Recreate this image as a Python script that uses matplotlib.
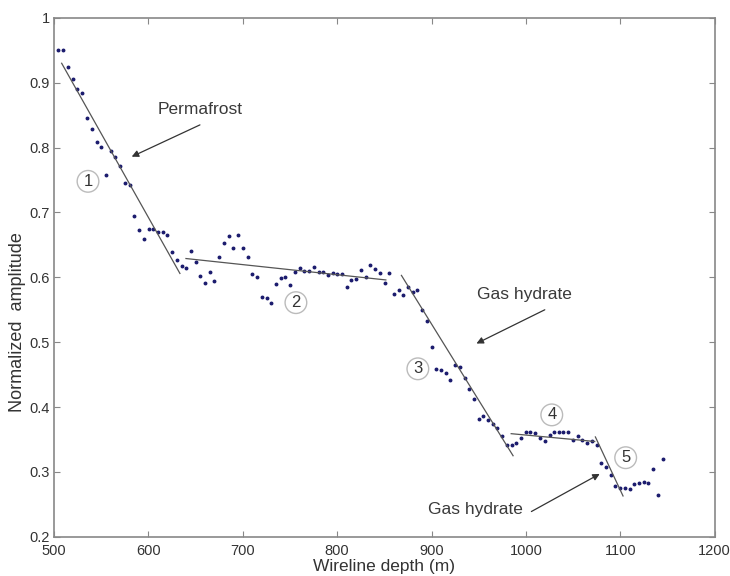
import matplotlib.pyplot as plt

plt.rcParams['font.family'] = ['Liberation Sans', 'DejaVu Sans']

# measured points (wireline depth in m, normalized amplitude)
depth = [504.6, 509.8, 515.1, 519.8, 524.7, 530.0, 534.6, 539.9, 545.2, 549.8,
         555.1, 560.0, 564.9, 569.9, 575.2, 580.2, 585.0, 590.0, 595.0, 600.3,
         605.2, 609.8, 615.1, 620.0, 625.3, 630.3, 635.2, 640.1, 645.1, 650.1,
         654.9, 659.9, 664.9, 669.8, 674.7, 680.0, 685.0, 689.9, 695.2, 700.2,
         705.1, 710.0, 715.0, 720.3, 725.2, 730.1, 735.1, 740.1, 744.9, 749.9,
         755.2, 760.2, 765.1, 770.0, 775.0, 780.3, 785.2, 790.2, 795.1, 800.0,
         805.0, 810.0, 814.8, 819.8, 825.1, 830.1, 835.0, 840.0, 844.9, 850.2,
         855.1, 860.4, 865.0, 869.9, 874.9, 879.9, 884.7, 890.0, 895.0, 900.0,
         904.9, 909.8, 914.8, 919.7, 925.0, 930.0, 935.0, 939.8, 944.8, 949.8,
         954.6, 959.6, 964.9, 969.8, 974.7, 979.7, 985.0, 990.0, 994.9, 999.8,
         1004.8, 1009.7, 1014.7, 1020.0, 1025.0, 1029.9, 1034.8, 1039.8, 1044.6, 1049.9,
         1054.9, 1059.8, 1064.8, 1069.7, 1075.0, 1079.9, 1084.8, 1089.8, 1094.8, 1099.7,
         1105.0, 1110.0, 1114.9, 1119.7, 1124.7, 1129.7, 1134.6, 1139.9, 1144.9]
amplitude = [0.950, 0.951, 0.925, 0.906, 0.891, 0.884, 0.845, 0.829, 0.809, 0.801,
             0.758, 0.794, 0.785, 0.772, 0.745, 0.742, 0.694, 0.673, 0.659, 0.675,
             0.675, 0.670, 0.670, 0.666, 0.639, 0.626, 0.618, 0.615, 0.640, 0.623,
             0.602, 0.592, 0.609, 0.594, 0.632, 0.653, 0.663, 0.646, 0.665, 0.646,
             0.632, 0.605, 0.600, 0.570, 0.568, 0.561, 0.590, 0.599, 0.600, 0.588,
             0.609, 0.614, 0.610, 0.610, 0.616, 0.609, 0.609, 0.604, 0.607, 0.605,
             0.605, 0.585, 0.596, 0.598, 0.612, 0.600, 0.619, 0.613, 0.606, 0.591,
             0.606, 0.575, 0.580, 0.573, 0.585, 0.577, 0.581, 0.549, 0.533, 0.493,
             0.458, 0.457, 0.453, 0.442, 0.465, 0.462, 0.445, 0.428, 0.412, 0.381,
             0.386, 0.380, 0.374, 0.368, 0.355, 0.342, 0.341, 0.345, 0.353, 0.361,
             0.361, 0.360, 0.352, 0.347, 0.357, 0.361, 0.361, 0.361, 0.361, 0.349,
             0.356, 0.349, 0.345, 0.347, 0.341, 0.314, 0.308, 0.296, 0.278, 0.275,
             0.276, 0.274, 0.282, 0.283, 0.285, 0.283, 0.304, 0.265, 0.320]

# fitted trend segments: (x0, x1), (y0, y1)
seg_x = [(508.1, 633.4), (639.8, 851.6), (868.1, 986.4), (984.4, 1072.9), (1073.6, 1102.9)]
seg_y = [(0.930, 0.606), (0.629, 0.596), (0.603, 0.325), (0.359, 0.347), (0.354, 0.263)]

# circled zone numbers
zone_labels = ['1', '2', '3', '4', '5']
zone_x = [536.0, 756.3, 885.5, 1027.4, 1105.7]
zone_y = [0.748, 0.561, 0.459, 0.388, 0.322]

fig = plt.figure(figsize=(7.3, 5.76), dpi=100)
ax = fig.add_axes([0.074, 0.068, 0.905, 0.901])

ax.plot(depth, amplitude, linestyle='none', marker='o', markersize=1.8,
        color='#1c1c6e')

for sx, sy in zip(seg_x, seg_y):
    ax.plot(sx, sy, color='#555555', linewidth=0.9)

for lab, zx, zy in zip(zone_labels, zone_x, zone_y):
    ax.text(zx, zy, lab, ha='center', va='center', fontsize=12, color='#333333',
            bbox=dict(boxstyle='circle,pad=0.2', facecolor='white',
                      edgecolor='#bbbbbb', linewidth=1.0))

arrow = dict(arrowstyle='-|>', color='#333333', lw=0.9, mutation_scale=10,
             shrinkA=0, shrinkB=0)
ax.annotate('', xy=(582.3, 0.786), xytext=(654.6, 0.835), arrowprops=arrow)
ax.text(655.3, 0.858, 'Permafrost', ha='center', va='center', fontsize=12.5,
        color='#3a3a3a')
ax.annotate('', xy=(947.6, 0.498), xytext=(1020.0, 0.550), arrowprops=arrow)
ax.text(998.8, 0.573, 'Gas hydrate', ha='center', va='center', fontsize=12.5,
        color='#3a3a3a')
ax.annotate('', xy=(1078.2, 0.297), xytext=(1005.8, 0.239), arrowprops=arrow)
ax.text(947.0, 0.242, 'Gas hydrate', ha='center', va='center', fontsize=12.5,
        color='#3a3a3a')

ax.set_xlim(500, 1200)
ax.set_ylim(0.2, 1.0)
ax.set_xticks([500, 600, 700, 800, 900, 1000, 1100, 1200])
ax.set_yticks([0.2, 0.3, 0.4, 0.5, 0.6, 0.7, 0.8, 0.9, 1.0])
ax.set_yticklabels(['0.2', '0.3', '0.4', '0.5', '0.6', '0.7', '0.8', '0.9', '1'])

for sp in ax.spines.values():
    sp.set_color('#888888')
    sp.set_linewidth(1.2)
ax.tick_params(direction='in', length=4, width=0.8, color='#888888',
               labelcolor='#333333', labelsize=10.5, top=True, right=True, pad=3)
ax.tick_params(axis='x', pad=5)

ax.set_xlabel('Wireline depth (m)', fontsize=12.5, color='#333333', labelpad=1)
ax.set_ylabel('Normalized  amplitude', fontsize=13, color='#333333')
ax.yaxis.set_label_coords(-0.043, 0.414)

fig.savefig('out.png', dpi=100)
